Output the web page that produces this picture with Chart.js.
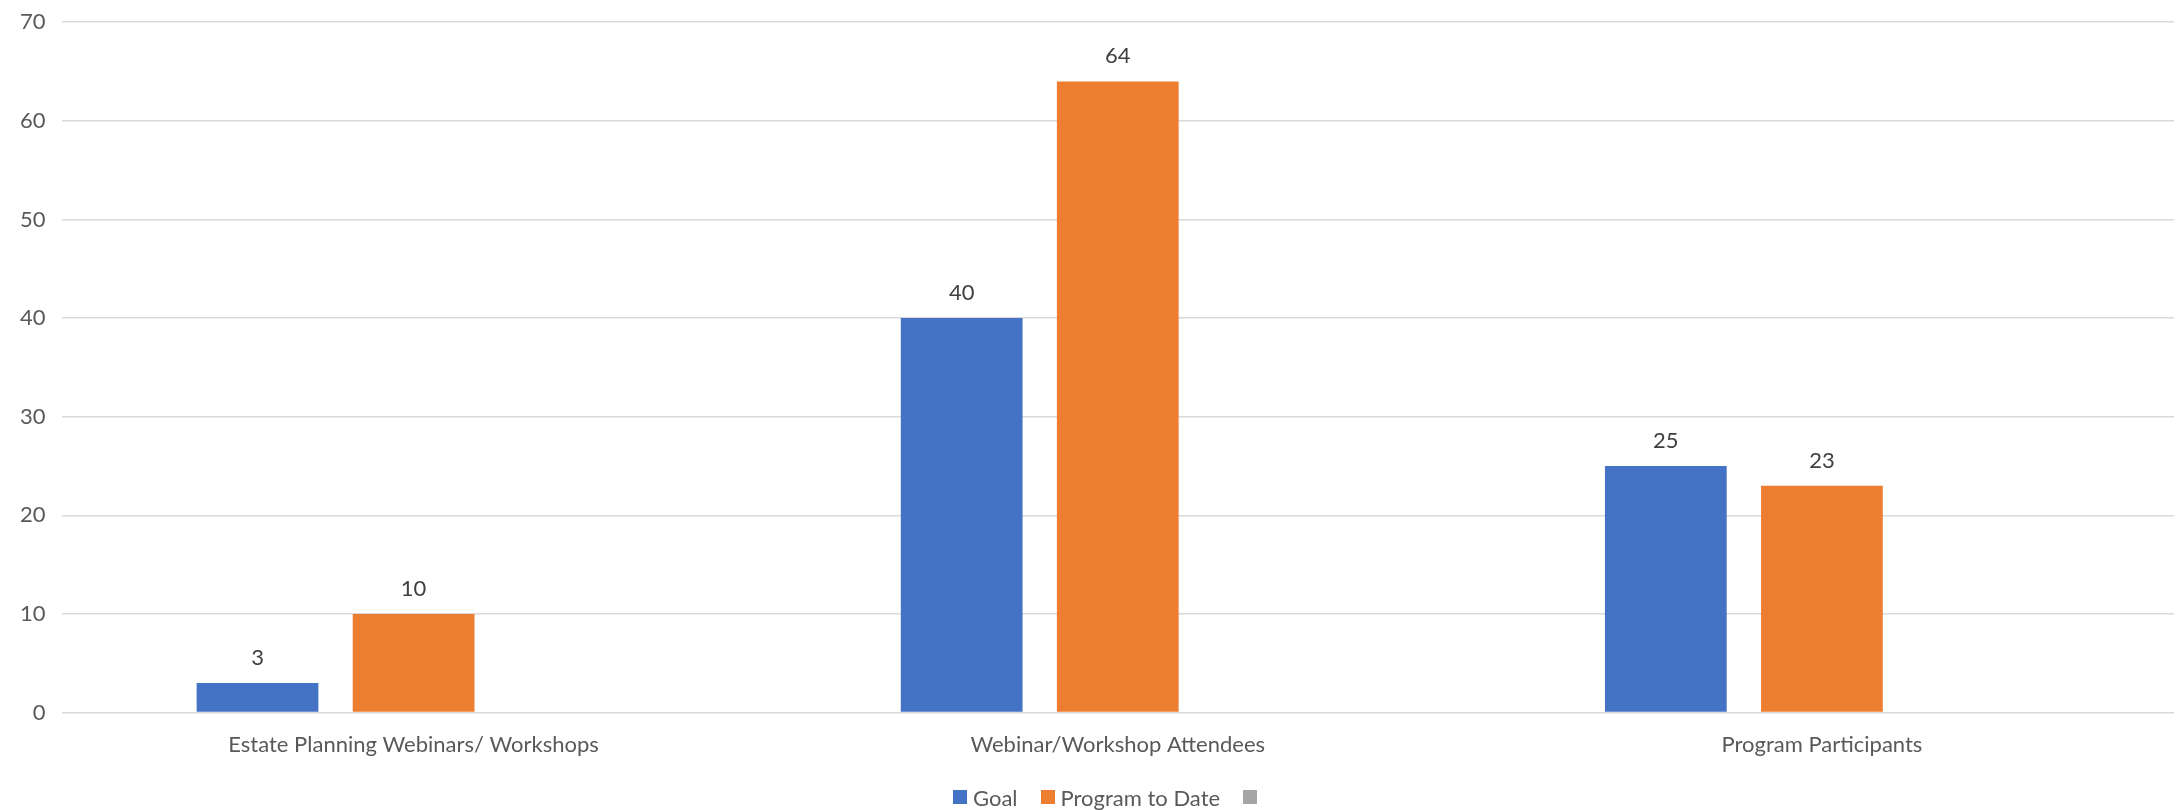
<!DOCTYPE html>
<html>
<head>
<meta charset="utf-8">
<script src="https://cdn.jsdelivr.net/npm/chart.js@4/dist/chart.umd.min.js"></script>
<style>
  html, body { margin: 0; padding: 0; background: #ffffff; }
  #wrap { position: relative; width: 2178px; height: 810px; overflow: hidden; }
  #plot { position: absolute; left: 0; top: -7px; width: 2178px; height: 817px; }
  #legend {
    position: absolute; left: 953px; top: 784px; height: 26px;
    display: flex; align-items: center;
    font: 22px Lato, "Noto Sans", sans-serif; color: #595959;
  }
  .legend-item { display: flex; align-items: center; margin-right: 23px; }
  .legend-box { width: 14px; height: 14px; margin-right: 6px; }
</style>
</head>
<body>
<div id="wrap">
  <div id="plot"><canvas id="chart"></canvas></div>
  <div id="legend"></div>
</div>
<script>
'use strict';

const categories = [
  'Estate Planning Webinars/ Workshops',
  'Webinar/Workshop Attendees',
  'Program Participants',
];
const goalValues = [3, 40, 25];
const toDateValues = [10, 64, 23];
const blankValues = [null, null, null];

const COLORS = {
  goal: '#4472c4',
  toDate: '#ed7d31',
  blank: '#a5a5a5',
  grid: '#d9d9d9',
  tick: '#595959',
  value: '#404040',
};

const FONT = 'Lato, "Noto Sans", sans-serif';

// value labels above each bar
const barValueLabels = {
  id: 'barValueLabels',
  afterDatasetsDraw(chart) {
    const ctx = chart.ctx;
    ctx.save();
    ctx.font = '22px ' + FONT;
    ctx.fillStyle = COLORS.value;
    ctx.textAlign = 'center';
    ctx.textBaseline = 'bottom';
    chart.data.datasets.forEach((ds, di) => {
      const meta = chart.getDatasetMeta(di);
      meta.data.forEach((bar, i) => {
        const v = ds.data[i];
        if (v === null || v === undefined) return;
        ctx.fillText(String(v), bar.x, bar.y - 14);
      });
    });
    ctx.restore();
  },
};

const chart = new Chart(document.getElementById('chart'), {
  type: 'bar',
  data: {
    labels: categories,
    datasets: [
      { label: 'Goal', data: goalValues, backgroundColor: COLORS.goal },
      { label: 'Program to Date', data: toDateValues, backgroundColor: COLORS.toDate },
      { label: '', data: blankValues, backgroundColor: COLORS.blank },
    ],
  },
  options: {
    responsive: true,
    maintainAspectRatio: false,
    animation: false,
    categoryPercentage: 0.665,
    barPercentage: 0.78,
    layout: { padding: { top: 0, right: 4, left: 4, bottom: 33 } },
    plugins: {
      legend: { display: false },
      tooltip: { enabled: false },
    },
    scales: {
      x: {
        grid: { display: false, drawTicks: false },
        border: { display: false },
        ticks: {
          color: COLORS.tick,
          padding: 19,
          font: { size: 22, family: FONT },
        },
      },
      y: {
        min: 0,
        max: 70,
        ticks: {
          stepSize: 10,
          color: COLORS.tick,
          padding: 16,
          font: { size: 22, family: FONT },
        },
        grid: { color: COLORS.grid, lineWidth: 1.5, drawTicks: false },
        border: { display: false },
      },
    },
  },
  plugins: [barValueLabels],
});

// legend row under the axis, one swatch per dataset
const legendEl = document.getElementById('legend');
chart.data.datasets.forEach(ds => {
  const item = document.createElement('div');
  item.className = 'legend-item';
  const box = document.createElement('span');
  box.className = 'legend-box';
  box.style.background = ds.backgroundColor;
  item.appendChild(box);
  if (ds.label) {
    const txt = document.createElement('span');
    txt.textContent = ds.label;
    item.appendChild(txt);
  }
  legendEl.appendChild(item);
});
</script>
</body>
</html>
